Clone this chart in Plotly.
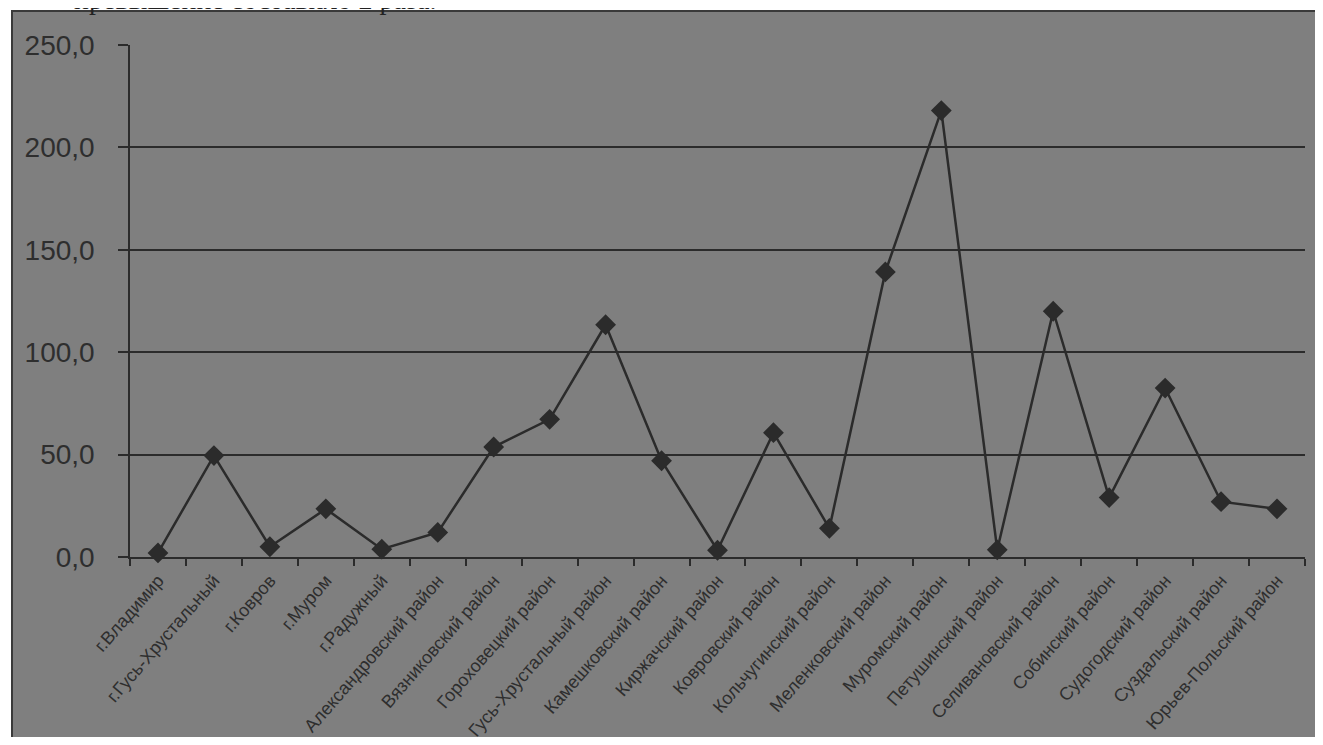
import plotly.graph_objects as go

categories = [
    "г.Владимир", "г.Гусь-Хрустальный", "г.Ковров", "г.Муром", "г.Радужный",
    "Александровский район", "Вязниковский район", "Гороховецкий район",
    "Гусь-Хрустальный район", "Камешковский район", "Киржачский район",
    "Ковровский район", "Кольчугинский район", "Меленковский район",
    "Муромский район", "Петушинский район", "Селивановский район",
    "Собинский район", "Судогодский район", "Суздальский район",
    "Юрьев-Польский район",
]
values = [2.0, 49.5, 5.0, 23.5, 3.8, 12.0, 53.7, 67.2, 113.4, 47.0, 3.3,
          60.7, 14.0, 139.2, 218.0, 3.5, 120.0, 29.0, 82.5, 27.0, 23.5]
y_ticks = [0, 50, 100, 150, 200, 250]
header_text = "превышение составило 2 раза."

BG = "#7f7f7f"
INK = "#2b2b2b"
TXT = "#2e2e2e"

# page has an 8px body margin; size the figure so it fits the 1323x745 window
OFF = 8
W, H = 1323 - 2 * OFF, 745 - 2 * OFF
ML, MT = 130 - OFF, 45 - OFF
MR = W - (1305 - OFF)
MB = H - (557 - OFF)
pw = W - ML - MR
ph = H - MT - MB

def px_x(p):
    return (p - OFF - ML) / pw

def px_y(p):
    return (H - MB - (p - OFF)) / ph

fig = go.Figure()
fig.add_trace(go.Scatter(
    x=categories, y=values, mode="lines+markers",
    line=dict(color=INK, width=2.5),
    marker=dict(symbol="diamond", size=16, color=INK),
    showlegend=False, cliponaxis=False,
))

fig.update_layout(
    width=W, height=H,
    margin=dict(l=ML, r=MR, t=MT, b=MB),
    paper_bgcolor="white",
    plot_bgcolor=BG,
    separators=", ",
    font=dict(family="Liberation Sans, Arial, sans-serif", color=TXT),
    shapes=[dict(
        type="rect", xref="paper", yref="paper", layer="below",
        x0=px_x(12), x1=px_x(1360), y0=px_y(780), y1=px_y(11),
        fillcolor=BG, line=dict(color="#3a3a3a", width=2),
    )],
    annotations=[dict(
        text=header_text, xref="paper", yref="paper",
        x=px_x(72), y=px_y(17), xanchor="left", yanchor="bottom",
        showarrow=False,
        font=dict(family="Liberation Serif, Times New Roman, serif", size=28, color="#222222"),
    )],
)

fig.update_xaxes(
    type="category",
    range=[-0.5, len(categories) - 0.5],
    autorange=False,
    automargin=False,
    tickangle=-49,
    tickfont=dict(size=18, color=TXT),
    ticks="outside", ticklen=7, tickcolor=INK, tickwidth=1.5,
    tickson="boundaries",
    showline=True, linecolor=INK, linewidth=2,
    showgrid=False, zeroline=False,
    ticklabelstandoff=4,
)
fig.update_yaxes(
    range=[0, 250],
    autorange=False,
    automargin=False,
    tickvals=y_ticks,
    tickformat=".1f",
    tickfont=dict(size=28, color=TXT),
    ticks="outside", ticklen=10, tickcolor=INK, tickwidth=2,
    showline=True, linecolor=INK, linewidth=1.5,
    showgrid=True, gridcolor=INK, gridwidth=2,
    zeroline=False,
    ticklabelstandoff=18,
)

fig.write_html("out.html")
